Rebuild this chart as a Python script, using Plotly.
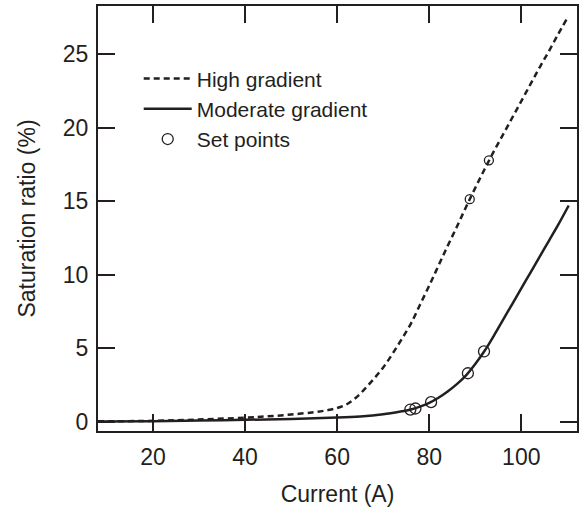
import plotly.graph_objects as go

# High gradient curve (dashed)
high_x = [8, 20, 30, 40, 45, 50, 55, 58, 60, 62, 64, 66, 68, 70, 72, 74, 76, 78, 80, 82, 84, 86, 88,
          90, 92, 94, 96, 98, 100, 102, 104, 106, 108, 109.9]
high_y = [0.02, 0.05, 0.14, 0.27, 0.36, 0.48, 0.64, 0.78, 0.92, 1.16, 1.6, 2.22, 2.92, 3.68, 4.6, 5.6, 6.65, 7.95, 9.25, 10.6, 11.95, 13.25, 14.6,
          15.9, 17.15, 18.36, 19.5, 20.65, 21.8, 22.95, 24.1, 25.2, 26.35, 27.4]

# Moderate gradient curve (solid)
mod_x = [8, 20, 30, 40, 50, 60, 65, 70, 74, 76, 78, 80, 82, 84, 86, 88, 90, 92, 94, 96, 98, 100, 102, 104, 106, 108, 110.3]
mod_y = [0.0, 0.03, 0.07, 0.12, 0.18, 0.27, 0.35, 0.5, 0.7, 0.82, 1.02, 1.27, 1.62, 2.05, 2.55, 3.15, 3.92, 4.8, 5.82, 6.9, 7.98, 9.06, 10.14, 11.22, 12.3, 13.38, 14.7]

# Set points
set_high_x = [88.8, 92.96]
set_high_y = [15.13, 17.77]
set_mod_x = [75.9, 77.0, 80.4, 88.4, 91.9]
set_mod_y = [0.82, 0.89, 1.32, 3.29, 4.77]

ink = "#231f20"
font = "Liberation Sans, Arial, Helvetica, sans-serif"
fs = 23

fig = go.Figure()
fig.add_trace(go.Scatter(x=high_x, y=high_y, mode="lines", name="High gradient",
                         line=dict(color=ink, width=2.5, dash="6px,4px", shape="spline", smoothing=1.0)))
fig.add_trace(go.Scatter(x=mod_x, y=mod_y, mode="lines", name="Moderate gradient",
                         line=dict(color=ink, width=2.5, shape="spline", smoothing=1.0)))
fig.add_trace(go.Scatter(x=set_mod_x, y=set_mod_y, mode="markers", name="Set points",
                         marker=dict(symbol="circle-open", size=11, color=ink, line=dict(width=1.3, color=ink))))
fig.add_trace(go.Scatter(x=set_high_x, y=set_high_y, mode="markers", name="Set points", showlegend=False,
                         marker=dict(symbol="circle-open", size=9, color=ink, line=dict(width=1.3, color=ink))))

axis_common = dict(showline=True, linewidth=2, linecolor=ink, mirror="ticks", ticks="inside",
                   ticklen=17, tickwidth=2, tickcolor=ink, showgrid=False, zeroline=False,
                   automargin=False, tickfont=dict(family=font, size=fs, color=ink))

fig.update_layout(
    width=584, height=508,
    margin=dict(l=98, r=7, t=6, b=77),
    plot_bgcolor="white", paper_bgcolor="white",
    font=dict(family=font, size=fs, color=ink),
    xaxis=dict(range=[8.05, 112.1], tickvals=[20, 40, 60, 80, 100], ticklabelstandoff=4,
               title=dict(text="Current (A)", font=dict(family=font, size=fs, color=ink), standoff=17),
               **axis_common),
    yaxis=dict(range=[-0.64, 28.27], tickvals=[0, 5, 10, 15, 20, 25], ticklabelstandoff=3,
               title=dict(text="Saturation ratio (%)", font=dict(family=font, size=fs, color=ink), standoff=21),
               **axis_common),
    legend=dict(x=0.085, y=0.877, xanchor="left", yanchor="top", bgcolor="rgba(0,0,0,0)",
                font=dict(family=font, size=21, color=ink), tracegroupgap=0, itemwidth=48),
    showlegend=True,
)

fig.write_html("out.html", post_script="document.body.style.margin='0';",
               config={"displayModeBar": False})
